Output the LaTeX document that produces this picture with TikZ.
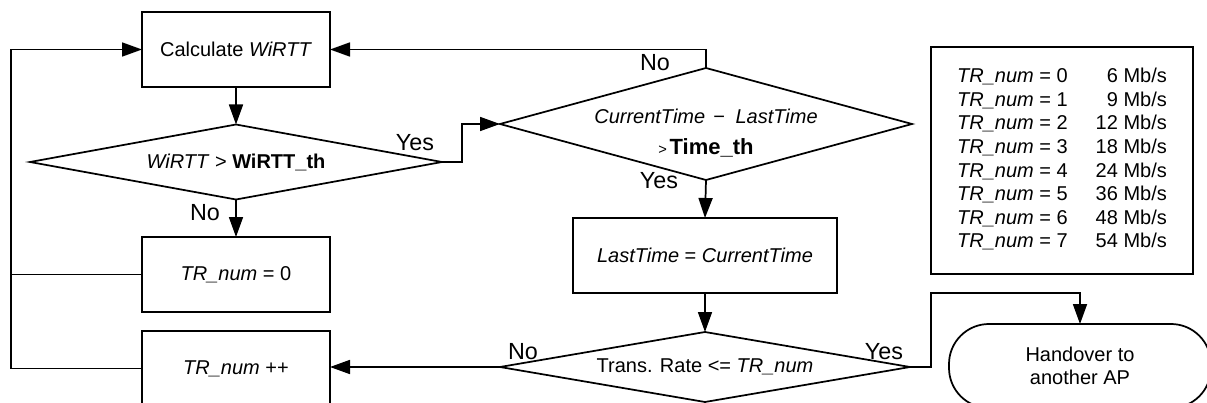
\documentclass[tikz,border=0pt]{standalone}
\usepackage{fontspec}
\setmainfont{Liberation Sans}
\usetikzlibrary{shapes.geometric,arrows.meta}
\begin{document}
\begin{tikzpicture}[x=0.75pt,y=-0.75pt,
  font=\fontsize{15}{17.7}\selectfont,
  every node/.style={inner sep=0pt,outer sep=0pt},
  procbox/.style={draw,line width=1.3pt,minimum height=56.25pt},
  decision/.style={draw,diamond,line width=1.3pt},
  termbox/.style={draw,line width=1.3pt,rounded corners=30pt,minimum width=196.5pt,minimum height=63pt,align=center},
  tablebox/.style={draw,line width=1.3pt,minimum width=196.5pt,minimum height=170.25pt},
  lbl/.style={font=\fontsize{17.5}{20}\selectfont},
  conn/.style={line width=1.3pt},
  thin/.style={line width=1pt},
  arr/.style={conn,-{Triangle[length=15pt,width=10.5pt]}}]
\useasboundingbox (0,0) rectangle (1207,403);

% process boxes
\node[procbox,minimum width=141pt] (calc) at (236,49.5) {Calculate \textit{WiRTT}};
\node[procbox,minimum width=141pt] (tr0) at (236,274.5) {\textit{TR\_num} = 0};
\node[procbox,minimum width=141pt] (trpp) at (236,368.5) {\textit{TR\_num} ++};
\node[procbox,minimum width=198pt] (last) at (705,255.5) {\textit{LastTime} = \textit{CurrentTime}};

% decisions
\node[decision,aspect=5.49,minimum width=309pt,minimum height=56.25pt] (d1) at (236,162)
  {\textit{WiRTT} > \textbf{WiRTT\_th}};
\node[decision,aspect=3.68,minimum width=309pt,minimum height=84pt] (d2) at (706,124) {};
\node[align=center] (d2t) at (706,133)
  {\textit{CurrentTime}\hspace{6pt}−\hspace{8pt}\textit{LastTime}\\[5pt]{\fontsize{11}{12}\selectfont >}\hspace{2pt}{\fontsize{16.5}{18}\selectfont\textbf{Time\_th}}};
\node[decision,aspect=5.86,minimum width=307.5pt,minimum height=52.5pt] (d3) at (705,367)
  {Trans. Rate <= \textit{TR\_num}};

% terminal
\node[termbox] (hand) at (1080,366) {Handover to\\another AP};

% table
\node[tablebox] (tab) at (1062,160.5) {%
  \begin{tabular}{@{}l@{\hspace{21pt}}r@{}}
  \textit{TR\_num} = 0 & 6 Mb/s\\
  \textit{TR\_num} = 1 & 9 Mb/s\\
  \textit{TR\_num} = 2 & 12 Mb/s\\
  \textit{TR\_num} = 3 & 18 Mb/s\\
  \textit{TR\_num} = 4 & 24 Mb/s\\
  \textit{TR\_num} = 5 & 36 Mb/s\\
  \textit{TR\_num} = 6 & 48 Mb/s\\
  \textit{TR\_num} = 7 & 54 Mb/s
  \end{tabular}};

% helper coordinates
\coordinate (lx) at (11,0);
\coordinate (yesjog) at (462,0);
\coordinate (d3jog) at (931,293);

% connectors
\draw[arr] (calc.south) -- (d1.north);
\draw[arr] (d1.south) -- (tr0.north);
\draw[arr] (d1.east) -- (d1.east -| yesjog) |- (d2.west);
\draw[arr] (d2.north) |- (calc.east);
\draw[arr] (d2.south) -- (last.north);
\draw[arr] (last.south) -- (d3.north);
\draw[arr] (d3.west) -- (d3.west -| trpp.east);
\draw[arr] (d3.east) -| (d3jog) -| (hand.north);
\draw[arr] (trpp.west) -| (lx |- calc.west) -- (calc.west);
\draw[thin] (tr0.west) -- (tr0.west -| lx);

% labels
\node[lbl] (y1) at (415,143) {Yes};
\node[lbl] (n1) at (205,213) {No};
\node[lbl] (n2) at (655,63) {No};
\node[lbl] (y2) at (659,181) {Yes};
\node[lbl] (n3) at (523,352) {No};
\node[lbl] (y3) at (884,352) {Yes};
\end{tikzpicture}
\end{document}
